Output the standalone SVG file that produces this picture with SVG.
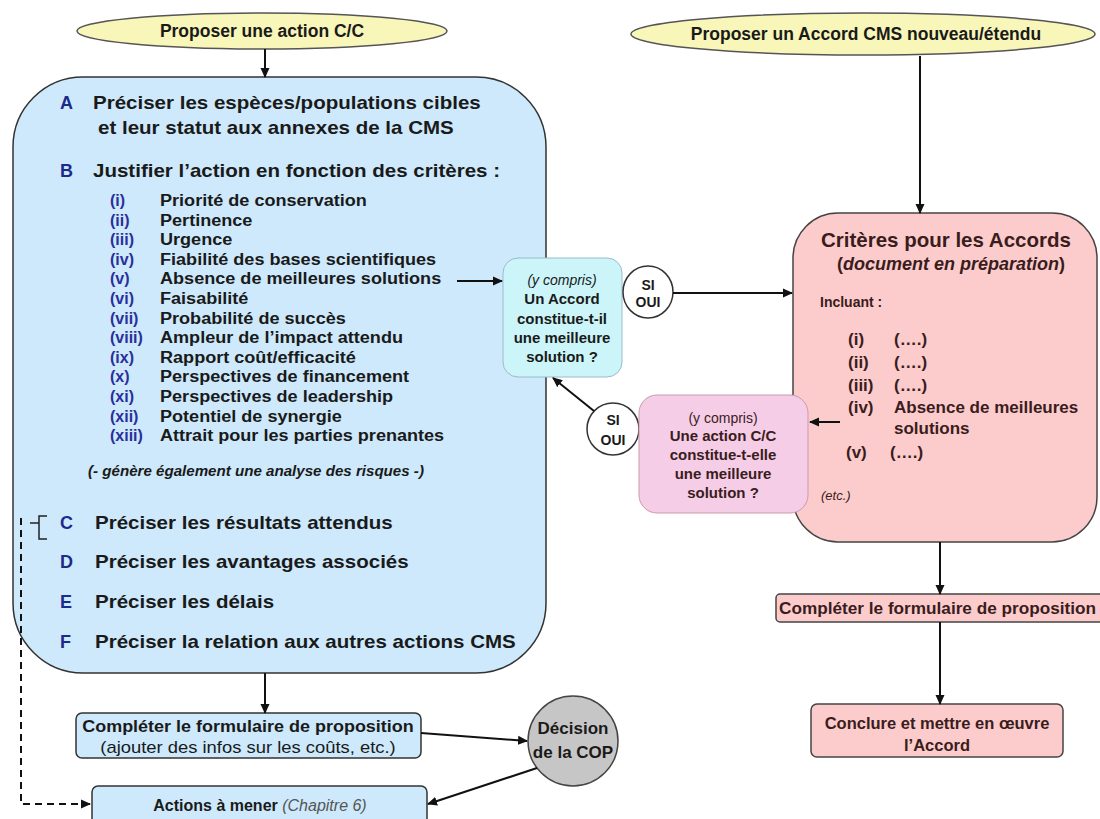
<svg xmlns="http://www.w3.org/2000/svg" width="1100" height="819" viewBox="0 0 1100 819">
<defs>
<marker id="ah" markerWidth="10" markerHeight="10" refX="9" refY="5" orient="auto" markerUnits="userSpaceOnUse">
<path d="M0,0.5 L10,5 L0,9.5 Z" fill="#111"/>
</marker>
<style>
text{font-family:"Liberation Sans",Arial,sans-serif;fill:#1a1a1a}
.b{font-weight:bold}
.it{font-style:italic}
.main{font-size:18px;font-weight:bold}
.let{font-size:18px;font-weight:bold;fill:#1c2a8c}
.lbl{font-size:16px;font-weight:bold;fill:#2a2f9a}
.li{font-size:16px;font-weight:bold}
.ell{fill:#f8f6b8;stroke:#555;stroke-width:1.5}
.blue{fill:#cde9fb;stroke:#333;stroke-width:1.5}
.pink{fill:#fccccc;stroke:#444;stroke-width:1.5}
.cyan{fill:#cbf5f9;stroke:#9bc;stroke-width:1}
.lav{fill:#f5cde6;stroke:#c9a;stroke-width:1}
.si{fill:#fff;stroke:#333;stroke-width:1.5}
.con{stroke:#111;stroke-width:2;fill:none}
.ctr{text-anchor:middle}
.rt{fill:#3a1c1c}
</style>
</defs>

<g id="start-cc">
<ellipse class="ell" cx="262" cy="31" rx="185" ry="18"/>
<text class="b ctr" x="262" y="37" font-size="17.5">Proposer une action C/C</text>
</g>

<g id="start-accord">
<ellipse class="ell" cx="863" cy="34" rx="232" ry="21"/>
<text class="b ctr" x="866" y="40" font-size="17.5">Proposer un Accord CMS nouveau/étendu</text>
</g>

<g id="cc-box">
<rect class="blue" x="13" y="77" width="533" height="596" rx="70" ry="70"/>
<text class="let" x="60" y="109">A</text>
<text class="let" x="60" y="177">B</text>
<g transform="translate(93 0) scale(1.14 1)">
<text class="main" x="0" y="109">Préciser les espèces/populations cibles</text>
<text class="main" x="4.4" y="134">et leur statut aux annexes de la CMS</text>
<text class="main" x="0" y="177">Justifier l’action en fonction des critères :</text>
</g>
<g>
<text class="lbl" x="110" y="206">(i)</text>
<text class="lbl" x="110" y="225.6">(ii)</text>
<text class="lbl" x="110" y="245.2">(iii)</text>
<text class="lbl" x="110" y="264.8">(iv)</text>
<text class="lbl" x="110" y="284.4">(v)</text>
<text class="lbl" x="110" y="304">(vi)</text>
<text class="lbl" x="110" y="323.6">(vii)</text>
<text class="lbl" x="110" y="343.2">(viii)</text>
<text class="lbl" x="110" y="362.8">(ix)</text>
<text class="lbl" x="110" y="382.4">(x)</text>
<text class="lbl" x="110" y="402">(xi)</text>
<text class="lbl" x="110" y="421.6">(xii)</text>
<text class="lbl" x="110" y="441.2">(xiii)</text>
</g>
<g transform="translate(160 0) scale(1.13 1)">
<text class="li" x="0" y="206">Priorité de conservation</text>
<text class="li" x="0" y="225.6">Pertinence</text>
<text class="li" x="0" y="245.2">Urgence</text>
<text class="li" x="0" y="264.8">Fiabilité des bases scientifiques</text>
<text class="li" x="0" y="284.4">Absence de meilleures solutions</text>
<text class="li" x="0" y="304">Faisabilité</text>
<text class="li" x="0" y="323.6">Probabilité de succès</text>
<text class="li" x="0" y="343.2">Ampleur de l’impact attendu</text>
<text class="li" x="0" y="362.8">Rapport coût/efficacité</text>
<text class="li" x="0" y="382.4">Perspectives de financement</text>
<text class="li" x="0" y="402">Perspectives de leadership</text>
<text class="li" x="0" y="421.6">Potentiel de synergie</text>
<text class="li" x="0" y="441.2">Attrait pour les parties prenantes</text>
</g>
<g transform="translate(88 0) scale(1.08 1)">
<text class="b it" x="0" y="476" font-size="14" fill="#2a2a2a">(- génère également une analyse des risques -)</text>
</g>
<text class="let" x="60" y="529">C</text>
<text class="let" x="60" y="568">D</text>
<text class="let" x="60" y="608">E</text>
<text class="let" x="60" y="648">F</text>
<g transform="translate(95 0) scale(1.14 1)">
<text class="main" x="0" y="529">Préciser les résultats attendus</text>
<text class="main" x="0" y="568">Préciser les avantages associés</text>
<text class="main" x="0" y="608">Préciser les délais</text>
<text class="main" x="0" y="648">Préciser la relation aux autres actions CMS</text>
</g>
</g>

<g id="q-accord">
<rect class="cyan" x="503" y="258" width="119" height="119" rx="15" ry="15"/>
<text class="it ctr" x="562" y="285" font-size="14">(y compris)</text>
<text class="b ctr" x="562" y="304" font-size="15">Un Accord</text>
<text class="b ctr" x="562" y="324" font-size="15">constitue-t-il</text>
<text class="b ctr" x="562" y="343" font-size="15">une meilleure</text>
<text class="b ctr" x="562" y="362" font-size="15">solution ?</text>
</g>

<g id="si-oui-1">
<ellipse class="si" cx="648" cy="292" rx="25" ry="26"/>
<text class="b ctr" x="648" y="290" font-size="14">SI</text>
<text class="b ctr" x="648" y="307" font-size="14">OUI</text>
</g>

<g id="si-oui-2">
<ellipse class="si" cx="613" cy="429" rx="26" ry="26"/>
<text class="b ctr" x="613" y="425" font-size="14">SI</text>
<text class="b ctr" x="613" y="445" font-size="14">OUI</text>
</g>

<g id="accord-box">
<rect class="pink" x="793" y="213" width="304" height="329" rx="45" ry="45"/>
<text class="b rt" x="821" y="247" font-size="20.5">Critères pour les Accords</text>
<text class="b rt" x="837" y="270" font-size="18">(<tspan class="it">document en préparation</tspan>)</text>
<text class="b rt" x="820" y="307" font-size="14">Incluant :</text>
<text class="b rt" x="848" y="345" font-size="17">(i)</text><text class="b rt" x="894" y="345" font-size="17">(….)</text>
<text class="b rt" x="848" y="368" font-size="17">(ii)</text><text class="b rt" x="894" y="368" font-size="17">(….)</text>
<text class="b rt" x="848" y="391" font-size="17">(iii)</text><text class="b rt" x="894" y="391" font-size="17">(….)</text>
<text class="b rt" x="848" y="413" font-size="17">(iv)</text><text class="b rt" x="894" y="413" font-size="17">Absence de meilleures</text>
<text class="b rt" x="894" y="434" font-size="17">solutions</text>
<text class="b rt" x="846" y="458" font-size="17">(v)</text><text class="b rt" x="890" y="458" font-size="17">(….)</text>
<text class="it rt" x="821" y="500" font-size="13">(etc.)</text>
</g>

<g id="q-cc">
<rect class="lav" x="639" y="395" width="169" height="118" rx="18" ry="18"/>
<text class="ctr rt" x="723" y="423" font-size="14">(y compris)</text>
<text class="b ctr rt" x="723" y="441" font-size="15">Une action C/C</text>
<text class="b ctr rt" x="723" y="460" font-size="15">constitue-t-elle</text>
<text class="b ctr rt" x="723" y="479" font-size="15">une meilleure</text>
<text class="b ctr rt" x="723" y="498" font-size="15">solution ?</text>
</g>

<g id="form-accord">
<rect class="pink" x="776" y="594" width="340" height="28" rx="4" ry="4"/>
<text class="b rt" x="779" y="614" font-size="17.2">Compléter le formulaire de proposition</text>
</g>

<g id="conclude">
<rect class="pink" x="811" y="704" width="252" height="53" rx="6" ry="6"/>
<text class="b ctr rt" x="937" y="729" font-size="16.5">Conclure et mettre en œuvre</text>
<text class="b ctr rt" x="937" y="751" font-size="16.5">l’Accord</text>
</g>

<g id="form-cc">
<rect class="blue" x="76" y="713" width="345" height="45" rx="6" ry="6"/>
<g transform="translate(248 0) scale(1.09 1)">
<text class="b ctr" x="0" y="732" font-size="16.5">Compléter le formulaire de proposition</text>
</g>
<g transform="translate(248 0) scale(1.15 1)">
<text class="ctr" x="0" y="753" font-size="16">(ajouter des infos sur les coûts, etc.)</text>
</g>
</g>

<g id="cop">
<circle cx="573" cy="741" r="45" fill="#c6c6c6" stroke="#444" stroke-width="1.5"/>
<text class="b ctr" x="573" y="734" font-size="17">Décision</text>
<text class="b ctr" x="573" y="758" font-size="17">de la COP</text>
</g>

<g id="actions">
<rect class="blue" x="92" y="786" width="335" height="45" rx="6" ry="6"/>
<text class="ctr" x="260" y="811" font-size="16"><tspan class="b">Actions à mener</tspan> <tspan class="it" fill="#555">(Chapitre 6)</tspan></text>
</g>

<g id="connectors">
<line class="con" x1="265" y1="49" x2="265" y2="77" marker-end="url(#ah)"/>
<line class="con" x1="920" y1="56" x2="920" y2="213" marker-end="url(#ah)"/>
<line class="con" x1="457" y1="281" x2="502" y2="281" marker-end="url(#ah)"/>
<line class="con" x1="673" y1="293" x2="792" y2="293" marker-end="url(#ah)"/>
<line class="con" x1="594" y1="411" x2="553" y2="378" marker-end="url(#ah)"/>
<line class="con" x1="840" y1="422" x2="810" y2="422" marker-end="url(#ah)"/>
<line class="con" x1="940" y1="542" x2="940" y2="594" marker-end="url(#ah)"/>
<line class="con" x1="940" y1="622" x2="940" y2="704" marker-end="url(#ah)"/>
<line class="con" x1="265" y1="673" x2="265" y2="713" marker-end="url(#ah)"/>
<line class="con" x1="421" y1="733" x2="527" y2="741" marker-end="url(#ah)"/>
<line class="con" x1="537" y1="768" x2="428" y2="804" marker-end="url(#ah)"/>
<path class="con" d="M21 518 V804 H90" stroke-dasharray="7 5" stroke-width="1.8" marker-end="url(#ah)"/>
<path d="M30 523 H39 M47 516 H39 V539 H47" stroke="#222" stroke-width="1.5" fill="none"/>
</g>
</svg>
